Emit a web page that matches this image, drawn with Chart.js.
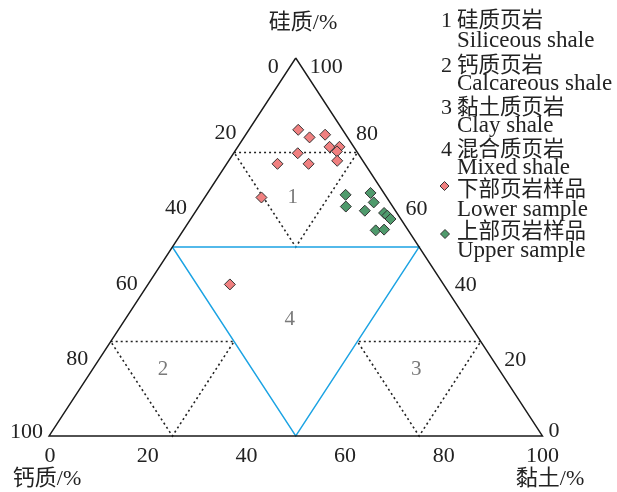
<!DOCTYPE html>
<html><head><meta charset="utf-8">
<script src="https://cdn.jsdelivr.net/npm/chart.js@4.4.1/dist/chart.umd.min.js"></script>
<style>html,body{margin:0;padding:0;background:#fff}#wrap{width:617px;height:492px;position:relative}</style>
</head><body><div id="wrap"><canvas id="c" width="617" height="492"></canvas></div>
<script>
// ---- Data (ternary percentages: silica / calcareous / clay) ----
const lowerSilica = [81.0, 79.0, 79.7, 76.5, 76.5, 75.3, 74.8, 72.0, 72.0, 72.8, 63.1, 40.1];
const lowerCalc   = [ 9.0,  7.7,  4.2,  4.9,  2.9,  4.0, 12.2, 17.7, 11.4,  5.2, 25.4, 43.3];
const lowerClay   = [10.0, 13.3, 16.1, 18.6, 20.6, 20.7, 13.0, 10.3, 16.6, 22.0, 11.5, 16.6];
const upperSilica = [63.8, 60.7, 64.3, 61.8, 59.6, 59.0, 58.3, 57.4, 54.4, 54.6];
const upperCalc   = [ 8.0,  9.5,  2.7,  3.3,  6.2,  2.6,  2.3,  2.1,  6.6,  4.8];
const upperClay   = [28.2, 29.8, 33.0, 34.9, 34.2, 38.4, 39.4, 40.5, 39.0, 40.6];

// tick labels
const leftTicks   = ['0', '20', '40', '60', '80', '100'];   // calcareous, top -> bottom-left
const rightTicks  = ['100', '80', '60', '40', '20', '0'];   // silica, top -> bottom-right
const bottomTicks = ['0', '20', '40', '60', '80', '100'];   // clay, left -> right

// axis titles
const titleSilica = '硅质/%';
const titleCalc = '钙质/%';
const titleClay = '黏土/%';

// legend
const legendNums = ['1', '2', '3', '4'];
const legendCn = ['硅质页岩', '钙质页岩', '黏土质页岩', '混合质页岩', '下部页岩样品', '上部页岩样品'];
const legendEn = ['Siliceous shale', 'Calcareous shale', 'Clay shale', 'Mixed shale', 'Lower sample', 'Upper sample'];

// field boundaries [silica, calc, clay]
const frameTri   = [[100,0,0],[0,100,0],[0,0,100],[100,0,0]];
const mixedTri   = [[50,50,0],[50,0,50],[0,50,50],[50,50,0]];
const siliceTri  = [[75,25,0],[75,0,25],[50,25,25],[75,25,0]];
const calcTri    = [[25,75,0],[25,50,25],[0,75,25],[25,75,0]];
const clayTri    = [[25,0,75],[25,25,50],[0,25,75],[25,0,75]];
const fieldNames = ['1', '2', '3', '4'];
const fieldLabelPos = [[63.6,18.8,17.6],[18,67.9,14.1],[18,16.6,65.4],[31.2,35.6,33.2]];

// ---- helpers ----
function toXY(s, ca, c){ const t = s + ca + c; return {x: (c + s/2)/t, y: s/t}; }
function polyline(arr){ return arr.map(p => toXY(p[0], p[1], p[2])); }
function pts(S, Ca, C){ return S.map((s,i) => toXY(s, Ca[i], C[i])); }

const SERIF = '"Liberation Serif","Times New Roman",serif';
const CJKF = '"Noto Sans CJK SC","Liberation Serif",sans-serif';
const MIX = '"Liberation Serif","Noto Sans CJK SC",serif';
const TXT = '#222';

function drawDiamond(ctx, x, y, r, fill){
  ctx.save();
  ctx.beginPath();
  ctx.moveTo(x - r, y); ctx.lineTo(x, y - r); ctx.lineTo(x + r, y); ctx.lineTo(x, y + r);
  ctx.closePath();
  ctx.fillStyle = fill; ctx.fill();
  ctx.lineWidth = 1; ctx.strokeStyle = '#333'; ctx.stroke();
  ctx.restore();
}

const textPlugin = {
  id: 'ternaryText',
  afterDraw(chart){
    const ctx = chart.ctx;
    const xs = chart.scales.x, ys = chart.scales.y;
    const P = (s, ca, c) => { const q = toXY(s, ca, c); return [xs.getPixelForValue(q.x), ys.getPixelForValue(q.y)]; };
    ctx.save();
    ctx.fillStyle = TXT;
    ctx.textBaseline = 'alphabetic';
    ctx.font = '22px ' + SERIF;
    // left ticks (calcareous)
    leftTicks.forEach((t, i) => {
      const v = i * 20; const [x, y] = P(100 - v, v, 0);
      let dx = -10, dy = 5;
      if (i === 0) { dx = -17; dy = 15; }
      if (i === leftTicks.length - 1) { dx = -6; dy = 2; }
      ctx.textAlign = 'right'; ctx.fillText(t, x + dx, y + dy);
    });
    // right ticks (silica)
    rightTicks.forEach((t, i) => {
      const v = 100 - i * 20; const [x, y] = P(v, 0, 100 - v);
      let dx = 11, dy = 6;
      if (i === 0) { dx = 14; dy = 15; }
      if (i === rightTicks.length - 1) { dx = 6; dy = 1; }
      ctx.textAlign = 'left'; ctx.fillText(t, x + dx, y + dy);
    });
    // bottom ticks (clay)
    bottomTicks.forEach((t, i) => {
      const v = i * 20; const [x, y] = P(0, 100 - v, v);
      ctx.textAlign = 'center'; ctx.fillText(t, x + (i === 0 ? 1 : 0), y + 26);
    });
    // field numbers
    ctx.fillStyle = '#7a7a7a';
    ctx.font = '21px ' + SERIF;
    fieldNames.forEach((t, i) => {
      const p = fieldLabelPos[i]; const [x, y] = P(p[0], p[1], p[2]);
      ctx.textAlign = 'center'; ctx.fillText(t, x, y + 7);
    });
    // axis titles
    ctx.fillStyle = TXT;
    ctx.font = '22px ' + MIX;
    ctx.textAlign = 'center';
    ctx.fillText(titleSilica, 303, 29);
    ctx.fillText(titleCalc, 47, 485);
    ctx.fillText(titleClay, 550, 485);
    // legend
    const cnBase = [27, 71.5, 113.5, 156, 196, 238];
    const enBase = [47, 90, 131.5, 174, 216, 257];
    ctx.textAlign = 'left';
    legendNums.forEach((t, i) => { ctx.font = '22px ' + SERIF; ctx.fillText(t, 441, cnBase[i]); });
    legendCn.forEach((t, i) => { ctx.font = '21.5px ' + CJKF; ctx.fillText(t, 457, cnBase[i]); });
    legendEn.forEach((t, i) => { ctx.font = '23px ' + SERIF; ctx.fillText(t, 457, enBase[i]); });
    drawDiamond(ctx, 444.5, 186, 4.5, '#f08080');
    drawDiamond(ctx, 445, 234, 4.5, '#4f9a6c');
    ctx.restore();
  }
};

const lineDs = (data, color, dash, width, order) => ({
  type: 'scatter', data, showLine: true, pointRadius: 0, pointHoverRadius: 0,
  borderColor: color, borderWidth: width, borderDash: dash, fill: false, tension: 0,
  order, clip: false
});

// px: left vertex 49, right 542.5 ; base y 436, apex 58
const X0 = 49, XW = 493.5, Y0 = 436, YH = 378, W = 617, H = 492;

new Chart(document.getElementById('c'), {
  type: 'scatter',
  data: {
    datasets: [
      { label: 'Lower sample', data: pts(lowerSilica, lowerCalc, lowerClay), pointStyle: 'rectRot',
        pointRadius: 5.5, pointHoverRadius: 5.5, backgroundColor: '#f08080', borderColor: '#333', borderWidth: 1, order: 1, clip: false },
      { label: 'Upper sample', data: pts(upperSilica, upperCalc, upperClay), pointStyle: 'rectRot',
        pointRadius: 5.5, pointHoverRadius: 5.5, backgroundColor: '#4f9a6c', borderColor: '#333', borderWidth: 1, order: 0, clip: false },
      lineDs(polyline(siliceTri), '#222', [2, 3], 1.6, 10),
      lineDs(polyline(calcTri), '#222', [2, 3], 1.6, 10),
      lineDs(polyline(clayTri), '#222', [2, 3], 1.6, 10),
      lineDs(polyline(mixedTri), '#1ba3e3', [], 1.4, 9),
      lineDs(polyline(frameTri), '#1a1a1a', [], 1.4, 8)
    ]
  },
  options: {
    responsive: false, animation: false, events: [],
    layout: { padding: 0, autoPadding: false },
    plugins: { legend: { display: false }, tooltip: { enabled: false } },
    scales: {
      x: { type: 'linear', display: false, min: -X0 / XW, max: (W - X0) / XW },
      y: { type: 'linear', display: false, min: -(H - Y0) / YH, max: Y0 / YH }
    }
  },
  plugins: [textPlugin]
});
</script>
</body></html>
